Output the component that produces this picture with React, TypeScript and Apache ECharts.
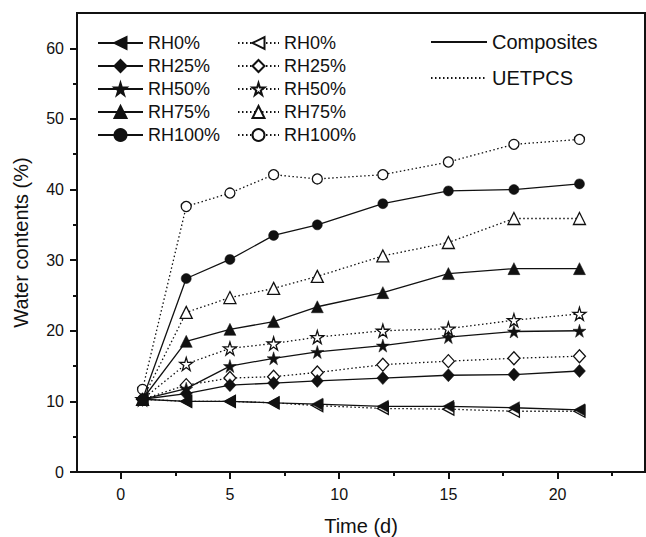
import React, { useEffect, useRef } from "react";
import * as echarts from "echarts";

const days = [1, 3, 5, 7, 9, 12, 15, 18, 21];
const compRH0 = [10.3, 10.0, 10.0, 9.8, 9.6, 9.3, 9.3, 9.1, 8.8];
const compRH25 = [10.3, 11.1, 12.3, 12.6, 12.9, 13.3, 13.7, 13.8, 14.3];
const compRH50 = [10.3, 11.8, 15.0, 16.1, 17.0, 17.9, 19.1, 19.9, 20.0];
const compRH75 = [10.3, 18.5, 20.2, 21.3, 23.4, 25.4, 28.1, 28.8, 28.8];
const compRH100 = [10.3, 27.4, 30.1, 33.5, 35.0, 38.0, 39.8, 40.0, 40.8];
const uRH0 = [10.3, 10.0, 10.0, 9.8, 9.4, 9.0, 8.9, 8.6, 8.6];
const uRH25 = [10.3, 12.3, 13.3, 13.5, 14.1, 15.2, 15.7, 16.1, 16.4];
const uRH50 = [10.3, 15.3, 17.5, 18.2, 19.1, 20.0, 20.3, 21.5, 22.4];
const uRH75 = [10.3, 22.6, 24.7, 26.0, 27.7, 30.6, 32.5, 35.9, 35.9];
const uRH100 = [11.7, 37.6, 39.5, 42.1, 41.5, 42.1, 43.9, 46.4, 47.1];

const xMajorTicks = [0, 5, 10, 15, 20];
const xMinorTicks = [2.5, 7.5, 12.5, 17.5, 22.5];
const yMajorTicks = [0, 10, 20, 30, 40, 50, 60];
const yMinorTicks = [5, 15, 25, 35, 45, 55];

const rhNames = ["RH0%", "RH25%", "RH50%", "RH75%", "RH100%"];
const compData = [compRH0, compRH25, compRH50, compRH75, compRH100];
const uData = [uRH0, uRH25, uRH50, uRH75, uRH100];
const U_SUFFIX = " (UETPCS)";

const INK = "#111";
const FONT = "'Liberation Sans', Arial, sans-serif";

const STAR = "path://M50,0 L61,35 L98,35 L68,57 L79,91 L50,70 L21,91 L32,57 L2,35 L39,35 Z";
const LEFT_TRI = "path://M0,50 L100,0 L100,100 Z";
const symbols = [LEFT_TRI, "diamond", STAR, "triangle", "circle"];
const symSizes: any[] = [[11, 12], [12, 13], 13, 12, 10];

function pairs(ys: number[]) {
  return days.map((d, i) => [d, ys[i]]);
}

export default function App() {
  const ref = useRef<HTMLDivElement>(null);
  useEffect(() => {
    if (!ref.current) return;
    const chart = echarts.init(ref.current, null, { renderer: "svg" });
    const series: any[] = [];
    rhNames.forEach((n, i) => {
      series.push({
        name: n + U_SUFFIX,
        type: "line",
        data: pairs(uData[i]),
        symbol: symbols[i],
        symbolSize: symSizes[i],
        lineStyle: { color: INK, width: 1.3, type: [1.5, 2.5] },
        itemStyle: { color: "#fff", borderColor: INK, borderWidth: 1.3 },
        z: 2,
      });
    });
    rhNames.forEach((n, i) => {
      series.push({
        name: n,
        type: "line",
        data: pairs(compData[i]),
        symbol: symbols[i],
        symbolSize: symSizes[i],
        lineStyle: { color: INK, width: 1.3, type: "solid" },
        itemStyle: { color: INK, borderColor: INK, borderWidth: 0.5 },
        z: 3,
      });
    });
    series.push({
      name: "Composites",
      type: "line",
      data: [],
      symbol: "none",
      lineStyle: { color: INK, width: 1.3, type: "solid" },
      itemStyle: { color: INK },
    });
    series.push({
      name: "UETPCS",
      type: "line",
      data: [],
      symbol: "none",
      lineStyle: { color: INK, width: 1.3, type: [1.5, 2.5] },
      itemStyle: { color: INK },
    });

    const legendText = { fontFamily: FONT, fontSize: 18, color: INK };
    const tickLabel = { fontFamily: FONT, fontSize: 16, color: INK };
    chart.setOption({
      animation: false,
      backgroundColor: "#fff",
      grid: {
        left: 77,
        right: 1,
        top: 13,
        bottom: 65,
        show: true,
        borderColor: INK,
        borderWidth: 2,
        containLabel: false,
        outerBoundsMode: "none",
      },
      legend: [
        {
          data: rhNames,
          orient: "vertical",
          left: 97,
          top: 34,
          padding: 0,
          itemWidth: 45,
          itemHeight: 15,
          itemGap: 5,
          textStyle: legendText,
          selectedMode: false,
        },
        {
          data: rhNames.map((n) => n + U_SUFFIX),
          formatter: (name: string) => name.replace(U_SUFFIX, ""),
          orient: "vertical",
          left: 237,
          top: 34,
          padding: 0,
          itemWidth: 41,
          itemHeight: 15,
          itemGap: 5,
          textStyle: legendText,
          selectedMode: false,
        },
        {
          data: ["Composites", "UETPCS"],
          orient: "vertical",
          left: 430,
          top: 32,
          padding: 0,
          itemWidth: 56,
          itemHeight: 10,
          itemGap: 16,
          itemStyle: { color: "rgba(0,0,0,0)", borderColor: "rgba(0,0,0,0)", borderWidth: 0 },
          textStyle: { fontFamily: FONT, fontSize: 20, color: INK },
          selectedMode: false,
        },
      ],
      xAxis: [
        {
          type: "value",
          min: -2,
          max: 24,
          position: "bottom",
          name: "Time (d)",
          nameLocation: "middle",
          nameGap: 44,
          nameTextStyle: { fontFamily: FONT, fontSize: 20, color: INK },
          axisLine: { show: true, onZero: false, lineStyle: { color: INK, width: 2 } },
          axisTick: {
            show: true,
            length: 7,
            customValues: xMajorTicks,
            lineStyle: { color: INK, width: 2 },
          },
          axisLabel: { ...tickLabel, margin: 14, customValues: xMajorTicks },
          splitLine: { show: false },
        },
        {
          type: "value",
          min: -2,
          max: 24,
          position: "bottom",
          axisLine: { show: false, onZero: false },
          axisTick: {
            show: true,
            length: 4,
            customValues: xMinorTicks,
            lineStyle: { color: INK, width: 2 },
          },
          axisLabel: { show: false },
          splitLine: { show: false },
        },
      ],
      yAxis: [
        {
          type: "value",
          min: 0,
          max: 65,
          position: "left",
          name: "Water contents (%)",
          nameLocation: "middle",
          nameGap: 46,
          nameTextStyle: { fontFamily: FONT, fontSize: 20, color: INK },
          axisLine: { show: true, onZero: false, lineStyle: { color: INK, width: 2 } },
          axisTick: {
            show: true,
            length: 7,
            customValues: yMajorTicks,
            lineStyle: { color: INK, width: 2 },
          },
          axisLabel: { ...tickLabel, margin: 13, customValues: yMajorTicks },
          splitLine: { show: false },
        },
        {
          type: "value",
          min: 0,
          max: 65,
          position: "left",
          axisLine: { show: false, onZero: false },
          axisTick: {
            show: true,
            length: 4,
            customValues: yMinorTicks,
            lineStyle: { color: INK, width: 2 },
          },
          axisLabel: { show: false },
          splitLine: { show: false },
        },
      ],
      series,
    });
    return () => chart.dispose();
  }, []);
  return (
    <div
      ref={ref}
      style={{ position: "fixed", left: 0, top: 0, width: 646, height: 537, background: "#fff" }}
    />
  );
}
